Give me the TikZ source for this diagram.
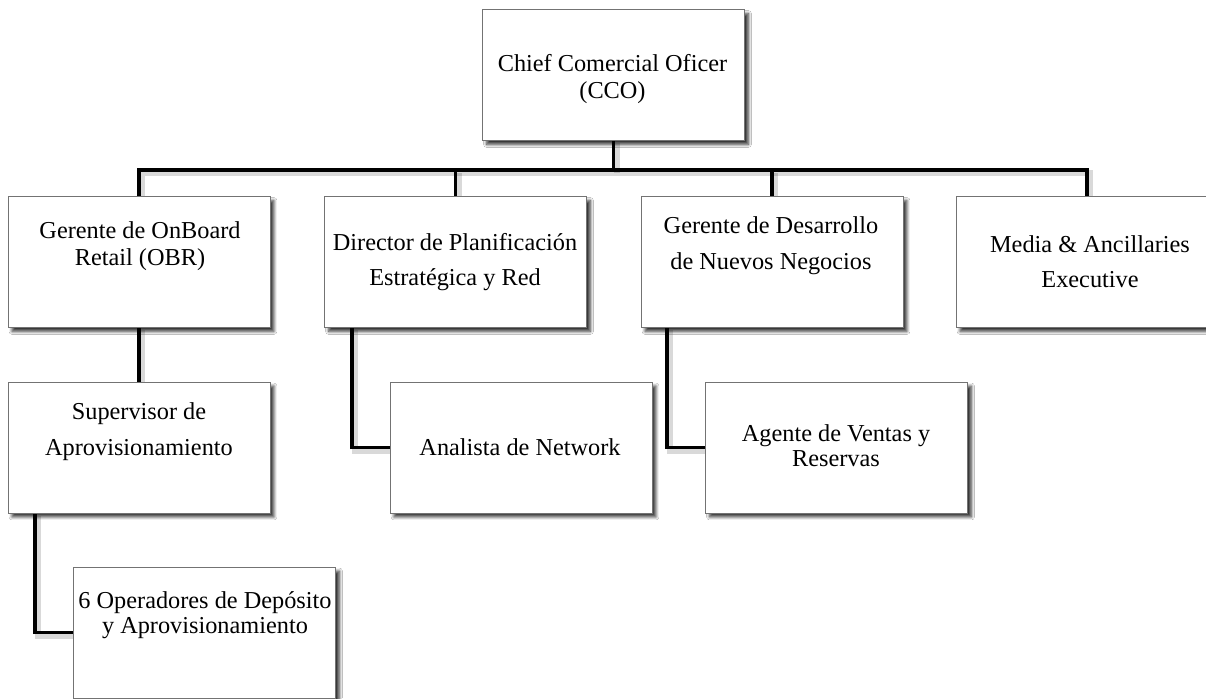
\documentclass[tikz,border=0pt]{standalone}
\usepackage{fontspec}
\setmainfont{Liberation Serif}
\usetikzlibrary{shadows.blur}

\tikzset{
  box/.style={draw=black!55, line width=0.8pt, fill=white, rectangle,
    inner sep=0pt, minimum width=261pt, minimum height=130pt},
  boxshadow/.style={fill=white, draw=none,
    blur shadow={shadow xshift=4pt, shadow yshift=-4pt, shadow blur steps=8,
      shadow blur radius=3pt, shadow opacity=80}},
  lbl/.style={inner sep=0pt, align=center, font=\fontsize{24.3}{27}\selectfont},
  tight/.style={font=\fontsize{24.3}{25}\selectfont},
  conn/.style={draw=black, line width=3.2pt, line join=miter,
    preaction={draw=black, opacity=0.15, line width=6pt,
      transform canvas={shift={(3pt,-3pt)}}}}
}

\begin{document}
\begin{tikzpicture}[x=1pt, y=-1pt]
  \useasboundingbox (0,0) rectangle (1206,698);
  \fill[white] (0,0) rectangle (1206,698);
  \clip (0,0) rectangle (1206,698);

  % level of the horizontal bus
  \coordinate (bus) at (0,170);

  % boxes
  \node[box] (cco) at (613.5,75)   {};
  \node[box] (obr) at (139,262)    {};
  \node[box] (dir) at (455.5,262)  {};
  \node[box] (dnn) at (772,262)    {};
  \node[box] (med) at (1087,262)   {};
  \node[box] (sup) at (139,447.5)  {};
  \node[box] (ana) at (521,447.5)  {};
  \node[box] (age) at (836.5,447.5){};
  \node[box] (ope) at (204.5,632.5){};

  % connectors
  \draw[conn] (cco.south) -- (cco.south |- bus);
  \draw[conn] (obr.north) -- (obr.north |- bus) -- (med.north |- bus) -- (med.north);
  \draw[conn] (dir.north) -- (dir.north |- bus);
  \draw[conn] (dnn.north) -- (dnn.north |- bus);
  \draw[conn] (obr.south) -- (sup.north);
  \draw[conn] ([xshift=-104pt]sup.south) |- (ope.west);
  \draw[conn] ([xshift=-103.5pt]dir.south) |- (ana.west);
  \draw[conn] ([xshift=-105pt]dnn.south) |- (age.west);

  % box faces with their drop shadows, drawn above the connector shadows
  \foreach \n in {cco,obr,dir,dnn,med,sup,ana,age,ope}{
    \path[boxshadow] (\n.north west) rectangle (\n.south east);
    \draw[draw=black!55, line width=0.8pt, fill=white]
      (\n.north west) rectangle (\n.south east);
  }

  % labels
  \node[lbl] (cco-t) at (612.5,79)  {Chief Comercial Oficer\\(CCO)};
  \node[lbl] (obr-t) at (140,246)   {Gerente de OnBoard\\Retail (OBR)};
  \node[lbl] (dir-t) at (455,262.5) {Director de Planificación\\[8pt]Estratégica y Red};
  \node[lbl] (dnn-t) at (771,245.4) {Gerente de Desarrollo\\[9pt]de Nuevos Negocios};
  \node[lbl] (med-t) at (1090,261.3){Media \& Ancillaries\\[8pt]Executive};
  \node[lbl] (sup-t) at (139,431.4) {Supervisor de\\[9pt]Aprovisionamiento};
  \node[lbl] (ana-t) at (520,447)   {Analista de Network};
  \node[lbl,tight] (age-t) at (836,446) {Agente de Ventas y\\Reservas};
  \node[lbl,tight] (ope-t) at (205,614.7) {6 Operadores de Depósito\\y Aprovisionamiento};
\end{tikzpicture}
\end{document}
